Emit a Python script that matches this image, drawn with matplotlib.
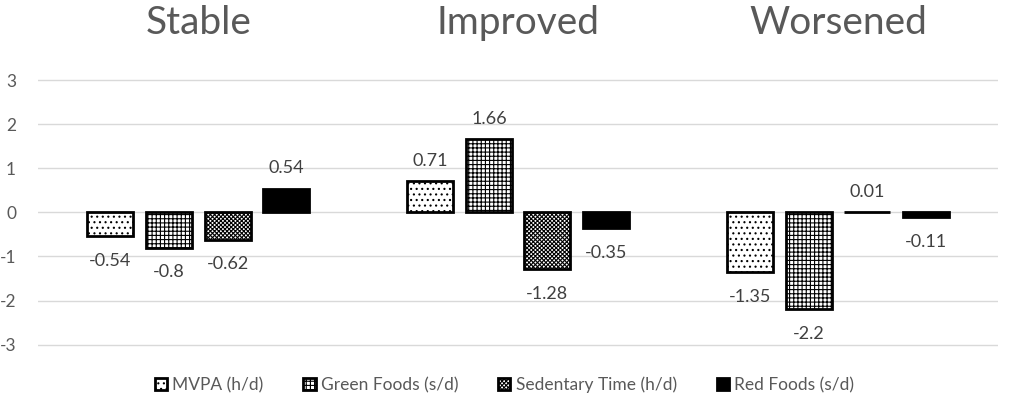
import matplotlib
matplotlib.use("Agg")
import matplotlib.pyplot as plt
import numpy as np

plt.rcParams['font.family'] = ['Lato', 'DejaVu Sans']
plt.rcParams['hatch.linewidth'] = 0.8

groups = ["Stable", "Improved", "Worsened"]
series = ["MVPA (h/d)", "Green Foods (s/d)", "Sedentary Time (h/d)", "Red Foods (s/d)"]
mvpa = [-0.54, 0.71, -1.35]
green = [-0.8, 1.66, -2.2]
sedentary = [-0.62, -1.28, 0.01]
red = [0.54, -0.35, -0.11]
labels = [["-0.54", "0.71", "-1.35"], ["-0.8", "1.66", "-2.2"],
          ["-0.62", "-1.28", "0.01"], ["0.54", "-0.35", "-0.11"]]
values = [mvpa, green, sedentary, red]
hatches = ['...', '++++', 'xxxxxxxx', '']
faces = ['white', 'white', 'white', 'black']
yticks = [-3, -2, -1, 0, 1, 2, 3]

fig = plt.figure(figsize=(10.09, 4.03), dpi=100)
ax = fig.add_axes([0.038, 0.112, 0.951, 0.722])
x = np.arange(len(groups))
width = 0.144
step = 0.183
for i, (vals, h, fc) in enumerate(zip(values, hatches, faces)):
    pos = x + (i - 1.5) * step
    ax.bar(pos, vals, width, facecolor=fc, edgecolor='black', hatch=h,
           linewidth=2.0, label=series[i], zorder=3)
    for p, v, lab in zip(pos, vals, labels[i]):
        if v >= 0:
            ax.text(p, v + 0.28, lab, ha='center', va='bottom', fontsize=13, color='#404040')
        else:
            ax.text(p, v - 0.38, lab, ha='center', va='top', fontsize=13, color='#404040')

ax.set_xlim(-0.5, 2.5)
ax.set_ylim(-3.3, 3.3)
ax.set_yticks(yticks)
ax.set_yticklabels([str(t) for t in yticks], fontsize=12.5, color='#595959')
ax.tick_params(axis='y', length=0, pad=16)
ax.set_xticks([])
ax.grid(axis='y', color='#d9d9d9', linewidth=1, zorder=0)
for s in ax.spines.values():
    s.set_visible(False)

for gx, g in zip(x, groups):
    xf = ax.transData.transform((gx, 0))[0] / fig.bbox.width
    fig.text(xf, 0.942, g, ha='center', va='center', fontsize=28, color='#595959')

leg = fig.legend(loc='center', bbox_to_anchor=(0.5, 0.045), ncol=4, frameon=False,
                 fontsize=12.5, handlelength=0.7, handleheight=0.7, columnspacing=2.3,
                 handletextpad=0.3, labelcolor='#595959')
fig.savefig('out.png', dpi=100)
